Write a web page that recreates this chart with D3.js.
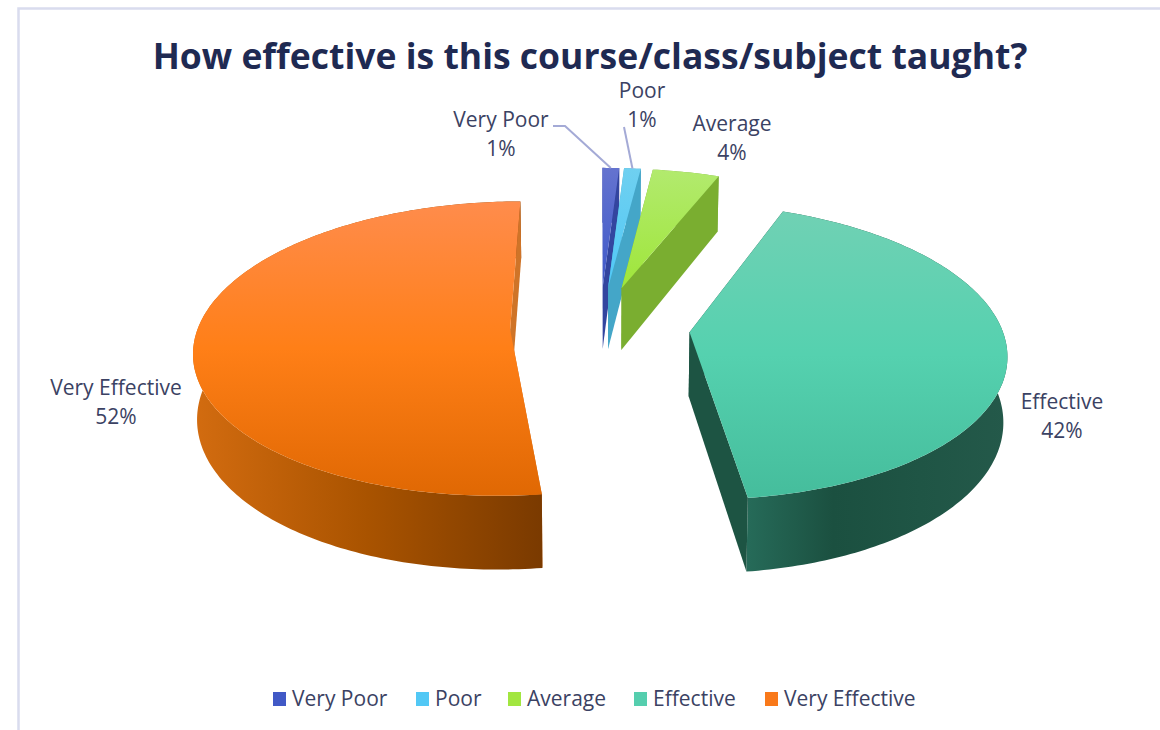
<!DOCTYPE html>
<html>
<head>
<meta charset="utf-8">
<script src="https://cdn.jsdelivr.net/npm/d3@7"></script>
<style>
  body { margin: 0; background: #fff; }
  text { font-family: "Open Sans", sans-serif; }
</style>
</head>
<body>
<div id="chart"></div>
<script>
const categories = ["Very Poor", "Poor", "Average", "Effective", "Very Effective"];
const values = [1, 1, 4, 42, 52];

// top face gradient stops (far edge to near edge)
const topColors = [
  ["#6473cf", "#3f59c9"],
  ["#6fd0f0", "#50c8f7"],
  ["#b2ea6e", "#9fe63a"],
  ["#70d1b4", "#55d1af", "#45bd9c"],
  ["#ff8c4c", "#ff7f17", "#e06803"]
];
// outer wall gradient stops (left to right)
const wallColors = [
  ["#3648ae", "#2f40a0"],
  ["#4aaccf", "#3f9fc6"],
  ["#76ab2e", "#80b04a"],
  ["#266b59", "#1b5040", "#1f5545", "#24594a"],
  ["#d36c10", "#a95300", "#7a3a00"]
];
const faceColors = ["#33459f", "#44a6c8", "#7aae30", "#1d5443", "#cf7428"];
const legendColors = ["#4159c6", "#52c8f5", "#a2e640", "#55ceae", "#f9791a"];

// label block centres and legend positions, layout only
const labelPos = [[501, 120], [642, 91], [732, 124], [1062, 402], [116, 388]];
const legendX = [273, 416, 508, 634, 765];

const width = 1160, height = 730;
const CX = 600, RX = 312;
const HORIZON = -790, TOP_D = 1117, THICK = 64;
const PERSP = 0.129, BASE_SHRINK = 0.99, EXPLODE = 0.288;

const svg = d3.select("#chart").append("svg")
  .attr("width", width)
  .attr("height", height);
const defs = svg.append("defs");

// chart frame, only the top and left edges are in shot
svg.append("path")
  .attr("d", "M18.5,730V8.5H1160")
  .attr("fill", "none")
  .attr("stroke", "#d9dcee")
  .attr("stroke-width", 2.5);

function addGradient(id, stops, vertical) {
  const g = defs.append("linearGradient")
    .attr("id", id)
    .attr("x1", 0).attr("y1", 0)
    .attr("x2", vertical ? 0 : 1).attr("y2", vertical ? 1 : 0);
  stops.forEach((c, i) => {
    g.append("stop")
      .attr("offset", i / (stops.length - 1))
      .attr("stop-color", c);
  });
}

const slices = d3.pie().sort(null).value(d => d)(values);
const line = d3.line();

// maps an angle and radius on the exploded pie to the screen, with perspective
function project(slice, angle, r, base) {
  const mid = (slice.startAngle + slice.endAngle) / 2;
  const u = EXPLODE * Math.sin(mid) + r * Math.sin(angle);
  const v = EXPLODE * Math.cos(mid) + r * Math.cos(angle);
  const s = 1 / (1 + PERSP * v);
  const x = CX + RX * u * s * (base ? BASE_SHRINK : 1);
  const y = HORIZON + (TOP_D + (base ? THICK : 0)) * s;
  return [x, y];
}

function rim(slice, base) {
  const n = Math.max(2, Math.ceil((slice.endAngle - slice.startAngle) * 60));
  return d3.range(n + 1).map(i => {
    const a = slice.startAngle + (slice.endAngle - slice.startAngle) * i / n;
    return project(slice, a, 1, base);
  });
}

function radialFace(slice, angle) {
  return line([
    project(slice, angle, 0, false),
    project(slice, angle, 1, false),
    project(slice, angle, 1, true),
    project(slice, angle, 0, true)
  ]) + "Z";
}

slices.forEach((slice, i) => {
  addGradient("top" + i, topColors[i], true);
  addGradient("wall" + i, wallColors[i], false);

  const g = svg.append("g").attr("class", "slice");

  g.append("path")
    .attr("d", radialFace(slice, slice.startAngle))
    .attr("fill", faceColors[i]);

  g.append("path")
    .attr("d", line(rim(slice, false).concat(rim(slice, true).reverse())) + "Z")
    .attr("fill", `url(#wall${i})`);

  // the end face sits in front of the outer wall
  g.append("path")
    .attr("d", radialFace(slice, slice.endAngle))
    .attr("fill", faceColors[i]);

  g.append("path")
    .attr("d", line([project(slice, 0, 0, false)].concat(rim(slice, false))) + "Z")
    .attr("fill", `url(#top${i})`);
});

// leader lines for the two thin slices
function leaderEnd(i) {
  const slice = slices[i];
  return project(slice, (slice.startAngle + slice.endAngle) / 2, 1, false);
}
svg.append("path")
  .attr("d", line([[553, 126], [565, 126], leaderEnd(0)]))
  .attr("fill", "none")
  .attr("stroke", "#a4aad6")
  .attr("stroke-width", 2);
svg.append("path")
  .attr("d", line([[624, 127], leaderEnd(1)]))
  .attr("fill", "none")
  .attr("stroke", "#a4aad6")
  .attr("stroke-width", 2);

// data labels
categories.forEach((name, i) => {
  const t = svg.append("text")
    .attr("text-anchor", "middle")
    .attr("font-size", 21)
    .attr("fill", "#3b4263");
  t.append("tspan")
    .attr("x", labelPos[i][0])
    .attr("y", labelPos[i][1] + 7)
    .text(name);
  t.append("tspan")
    .attr("x", labelPos[i][0])
    .attr("y", labelPos[i][1] + 36)
    .text(values[i] + "%");
});

svg.append("text")
  .attr("x", 590)
  .attr("y", 69)
  .attr("text-anchor", "middle")
  .attr("font-size", 35.5)
  .attr("font-weight", 700)
  .attr("fill", "#1f2a52")
  .text("How effective is this course/class/subject taught?");

// legend
const legend = svg.selectAll(".legend")
  .data(categories)
  .enter()
  .append("g")
  .attr("class", "legend")
  .attr("transform", (d, i) => `translate(${legendX[i]},692)`);

legend.append("rect")
  .attr("width", 13)
  .attr("height", 14)
  .attr("fill", (d, i) => legendColors[i]);

legend.append("text")
  .attr("x", 19)
  .attr("y", 14)
  .attr("font-size", 21)
  .attr("fill", "#3b4263")
  .text(d => d);
</script>
</body>
</html>
